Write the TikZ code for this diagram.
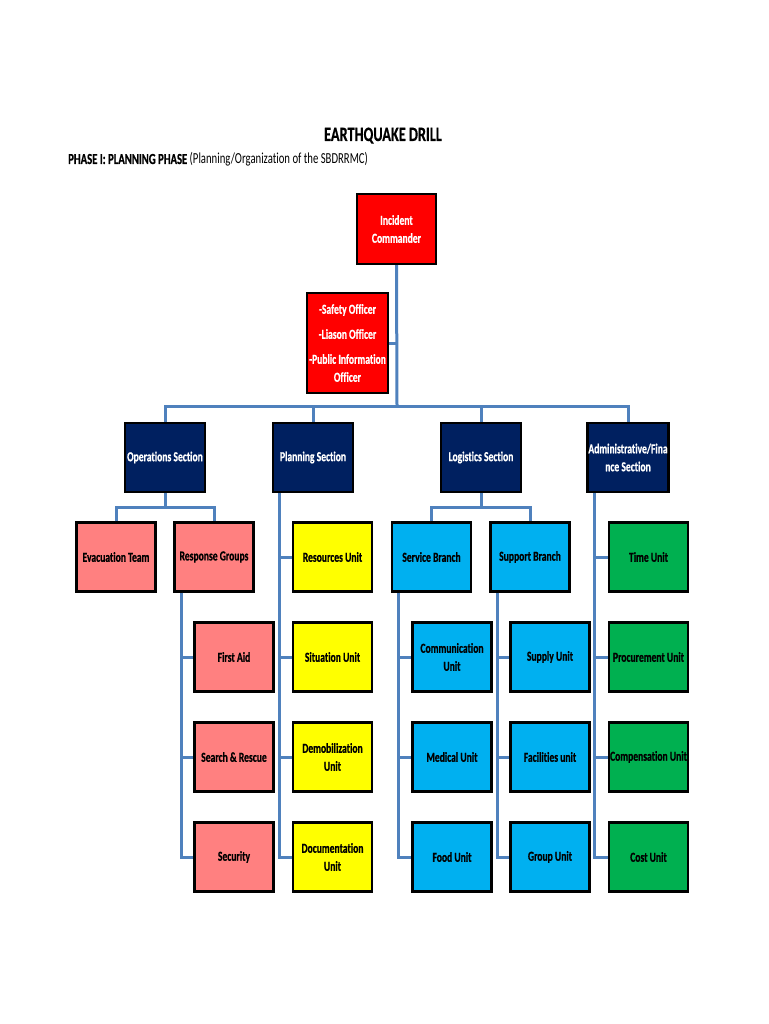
\documentclass[tikz,border=0pt]{standalone}
\usepackage{fontspec}
\setmainfont{Carlito}[FakeStretch=0.7,Ligatures=NoCommon,BoldFeatures={FakeBold=0.6}]
\usetikzlibrary{positioning}
\definecolor{icred}{RGB}{255,0,0}
\definecolor{secnavy}{RGB}{0,32,96}
\definecolor{opspink}{RGB}{255,128,128}
\definecolor{planyellow}{RGB}{255,255,0}
\definecolor{logblue}{RGB}{0,176,240}
\definecolor{admgreen}{RGB}{0,176,80}
\definecolor{linkblue}{RGB}{79,129,189}

\begin{document}
\begin{tikzpicture}[x=1pt,y=-1pt,node distance=28.6pt,
    box/.style={draw=black,line width=2.4pt,minimum width=79pt,minimum height=69pt,
      inner sep=1pt,align=center,font=\fontsize{13.7}{18}\selectfont\bfseries},
    link/.style={draw=linkblue,line width=3pt}]
  \useasboundingbox (0,0) rectangle (768,1024);
  % heading
  \node[anchor=base,inner sep=0pt,font=\fontsize{20.4}{24}\selectfont\bfseries] (title) at (383,141) {EARTHQUAKE DRILL};
  \node[anchor=base west,inner sep=0pt,font=\fontsize{15.3}{18}\selectfont] (phase) at (68,164)
    {\textbf{PHASE I: PLANNING PHASE} (Planning/Organization of the SBDRRMC)};
  % command
  \node[box,fill=icred,text=white,minimum height=70pt] (ic) at (396.5,229) {Incident\\Commander};
  \node[box,fill=icred,text=white,minimum width=81pt,minimum height=100pt] (off) at (347.5,343)
    {-Safety Officer\\[7pt]-Liason Officer\\[7pt]-Public Information\\Officer};
  % sections
  \node[box,fill=secnavy,text=white,minimum width=80pt] (ops) at (165,457.5) {Operations Section};
  \node[box,fill=secnavy,text=white,minimum width=80pt] (plan) at (313,457.5) {Planning Section};
  \node[box,fill=secnavy,text=white,minimum width=80pt] (log) at (481,457.5) {Logistics Section};
  \node[box,fill=secnavy,text=white,minimum width=80pt] (adm) at (628,457.5) {Administrative/Fina\\nce Section};
  % operations
  \node[box,fill=opspink] (evac) at (116,557) {Evacuation Team};
  \node[box,fill=opspink] (resp) at (214,557) {Response Groups};
  \node[box,fill=opspink] (aid) at (234,657) {First Aid};
  \node[box,fill=opspink,below=of aid] (sar) {Search \& Rescue};
  \node[box,fill=opspink,below=of sar] (sec) {Security};
  % planning
  \node[box,fill=planyellow] (res) at (332.5,557) {Resources Unit};
  \node[box,fill=planyellow,below=of res] (sit) {Situation Unit};
  \node[box,fill=planyellow,below=of sit] (demob) {Demobilization\\Unit};
  \node[box,fill=planyellow,below=of demob] (doc) {Documentation\\Unit};
  % logistics
  \node[box,fill=logblue] (serv) at (431.5,557) {Service Branch};
  \node[box,fill=logblue] (supp) at (530,557) {Support Branch};
  \node[box,fill=logblue] (comm) at (452,657) {Communication\\Unit};
  \node[box,fill=logblue,below=of comm] (med) {Medical Unit};
  \node[box,fill=logblue,below=of med] (food) {Food Unit};
  \node[box,fill=logblue] (sup) at (550,657) {Supply Unit};
  \node[box,fill=logblue,below=of sup] (fac) {Facilities unit};
  \node[box,fill=logblue,below=of fac] (grp) {Group Unit};
  % administration / finance
  \node[box,fill=admgreen] (time) at (648.5,557) {Time Unit};
  \node[box,fill=admgreen,below=of time] (proc) {Procurement Unit};
  \node[box,fill=admgreen,below=of proc] (comp) {Compensation Unit};
  \node[box,fill=admgreen,below=of comp] (cost) {Cost Unit};
  % links
  \coordinate (bus) at (397,406);
  \draw[link] (ic.south) -- (bus);
  \draw[link] (off.east) -- (off.east -| bus);
  \draw[link] (ops.north) |- (bus) -| (adm.north);
  \draw[link] (plan.north) -- (plan.north |- bus);
  \draw[link] (log.north) -- (log.north |- bus);
  \draw[link] (ops.south) -- ++(0,14) coordinate (opsbus);
  \draw[link] (evac.north) |- (opsbus) -| (resp.north);
  \draw[link] (log.south) -- ++(0,14) coordinate (logbus);
  \draw[link] (serv.north) |- (logbus) -| (supp.north);
  \coordinate (respv) at ([xshift=8pt]resp.south west);
  \draw[link] (respv) |- (aid.west) (respv) |- (sar.west) (respv) |- (sec.west);
  \coordinate (planv) at ([xshift=8pt]plan.south west);
  \draw[link] (planv) |- (res.west) (planv) |- (sit.west) (planv) |- (demob.west) (planv) |- (doc.west);
  \coordinate (servv) at ([xshift=8pt]serv.south west);
  \draw[link] (servv) |- (comm.west) (servv) |- (med.west) (servv) |- (food.west);
  \coordinate (suppv) at ([xshift=8pt]supp.south west);
  \draw[link] (suppv) |- (sup.west) (suppv) |- (fac.west) (suppv) |- (grp.west);
  \coordinate (admv) at ([xshift=8pt]adm.south west);
  \draw[link] (admv) |- (time.west) (admv) |- (proc.west) (admv) |- (comp.west) (admv) |- (cost.west);
\end{tikzpicture}
\end{document}
